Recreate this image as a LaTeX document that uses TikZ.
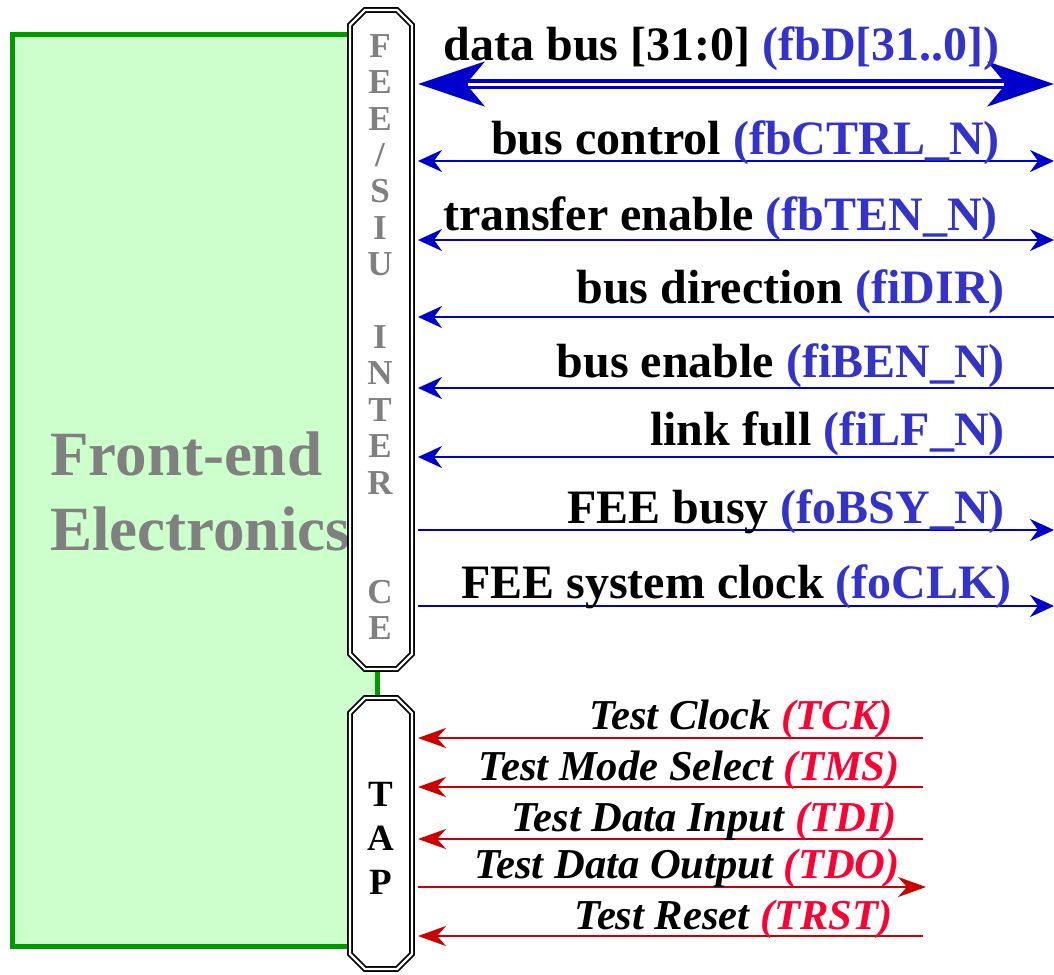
\documentclass[tikz,border=0pt]{standalone}
\usepackage{fontspec}
\setmainfont{Liberation Serif}
\usetikzlibrary{arrows.meta}
\definecolor{boxgreen}{HTML}{CCFFCC}
\definecolor{edgegreen}{HTML}{009900}
\definecolor{txtgray}{HTML}{808080}
\definecolor{lineblue}{HTML}{0000CC}
\definecolor{lblblue}{HTML}{3333CC}
\definecolor{linered}{HTML}{CC0000}
\definecolor{lblred}{HTML}{FF0033}
\tikzset{
  btip/.tip={Stealth[length=24pt,width=22pt,inset=8pt]},
  rtip/.tip={Stealth[length=28pt,width=20pt,inset=9pt]},
  bigtip/.tip={Stealth[length=66pt,width=44pt,inset=18pt]},
}
\begin{document}
\begin{tikzpicture}[x=1pt,y=-1pt,
  chbox/.style={draw=black, line width=1.8pt, double=white, double distance=2.2pt, fill=white},
  bluesig/.style={lineblue, line width=2.6pt},
  redsig/.style={linered, line width=2.6pt},
  blbl/.style={anchor=base east, inner sep=0pt, font=\fontsize{48}{50}\selectfont\bfseries},
  rlbl/.style={anchor=base east, inner sep=0pt, font=\fontsize{42.6}{45}\selectfont\bfseries\itshape},
  bigtxt/.style={anchor=base west, inner sep=0pt, text=txtgray, font=\fontsize{63}{75}\selectfont\bfseries},
]
\useasboundingbox (0,0) rectangle (1054,974);

% Front-end electronics box
\draw[edgegreen, line width=5pt, fill=boxgreen] (12.5,34.5) rectangle (377,946);
\node[bigtxt] (fe1) at (50,475) {Front-end};
\node[bigtxt] (fe2) at (50,550) {Electronics};

% FEE/SIU interface box
\draw[chbox] (350,25) -- (365,10) -- (397,10) -- (412,25) -- (412,654) -- (397,669) -- (365,669) -- (350,654) -- cycle;
\node[inner sep=0pt, align=center, text=txtgray, font=\fontsize{35}{36.4}\selectfont\bfseries] (siu) at (380,337)
  {F\\E\\E\\/\\S\\I\\U\\\mbox{}\\I\\N\\T\\E\\R\\\mbox{}\\\mbox{}\\C\\E};

% TAP box
\draw[chbox] (350,713) -- (365,698) -- (397,698) -- (412,713) -- (412,954) -- (397,969) -- (365,969) -- (350,954) -- cycle;
\node[inner sep=0pt, align=center, font=\fontsize{37}{44}\selectfont\bfseries] (tap) at (381,838) {T\\A\\P};

% blue signal end points
\coordinate (b1l) at (418,84);  \coordinate (b1r) at (1054,84);
\coordinate (b2l) at (418,161); \coordinate (b2r) at (1054,161);
\coordinate (b3l) at (418,240); \coordinate (b3r) at (1054,240);
\coordinate (b4l) at (418,317); \coordinate (b4r) at (1054,317);
\coordinate (b5l) at (418,388); \coordinate (b5r) at (1054,388);
\coordinate (b6l) at (418,457); \coordinate (b6r) at (1054,457);
\coordinate (b7l) at (418,530); \coordinate (b7r) at (1054,530);
\coordinate (b8l) at (418,606); \coordinate (b8r) at (1054,606);

% data bus (double)
\draw[lineblue, line width=10pt, {bigtip}-{bigtip}] (b1l) -- (b1r);
\draw[white, line width=3pt, shorten <=50pt, shorten >=50pt] (b1l) -- (b1r);
\draw[bluesig, {btip}-{btip}] (b2l) -- (b2r);
\draw[bluesig, {btip}-{btip}] (b3l) -- (b3r);
\draw[bluesig, {btip}-] (b4l) -- (b4r);
\draw[bluesig, {btip}-] (b5l) -- (b5r);
\draw[bluesig, {btip}-] (b6l) -- (b6r);
\draw[bluesig, -{btip}] (b7l) -- (b7r);
\draw[bluesig, -{btip}] (b8l) -- (b8r);

\node[blbl] (l1) at (1000,60)  {data bus [31:0] \textcolor{lblblue}{(fbD[31..0])}};
\node[blbl] (l2) at (1000,154) {bus control \textcolor{lblblue}{(fbCTRL\_N)}};
\node[blbl] (l3) at (998,230)  {transfer enable \textcolor{lblblue}{(fbTEN\_N)}};
\node[blbl] (l4) at (1005,303) {bus direction \textcolor{lblblue}{(fiDIR)}};
\node[blbl] (l5) at (1005,377) {bus enable \textcolor{lblblue}{(fiBEN\_N)}};
\node[blbl] (l6) at (1005,445) {link full \textcolor{lblblue}{(fiLF\_N)}};
\node[blbl] (l7) at (1005,523) {FEE busy \textcolor{lblblue}{(foBSY\_N)}};
\node[blbl] (l8) at (1012,598) {FEE system clock \textcolor{lblblue}{(foCLK)}};

% red TAP signals
\coordinate (r1l) at (418,738); \coordinate (r1r) at (923,738);
\coordinate (r2l) at (418,787); \coordinate (r2r) at (923,787);
\coordinate (r3l) at (418,839); \coordinate (r3r) at (923,839);
\coordinate (r4l) at (418,887); \coordinate (r4r) at (926,887);
\coordinate (r5l) at (418,936); \coordinate (r5r) at (923,936);
\draw[redsig, {rtip}-] (r1l) -- (r1r);
\draw[redsig, {rtip}-] (r2l) -- (r2r);
\draw[redsig, {rtip}-] (r3l) -- (r3r);
\draw[redsig, -{rtip}] (r4l) -- (r4r);
\draw[redsig, {rtip}-] (r5l) -- (r5r);

\node[rlbl] (t1) at (893,729) {Test Clock \textcolor{lblred}{(TCK)}};
\node[rlbl] (t2) at (900,780) {Test Mode Select \textcolor{lblred}{(TMS)}};
\node[rlbl] (t3) at (897,831) {Test Data Input \textcolor{lblred}{(TDI)}};
\node[rlbl] (t4) at (900,878) {Test Data Output \textcolor{lblred}{(TDO)}};
\node[rlbl] (t5) at (893,929) {Test Reset \textcolor{lblred}{(TRST)}};
\end{tikzpicture}
\end{document}
